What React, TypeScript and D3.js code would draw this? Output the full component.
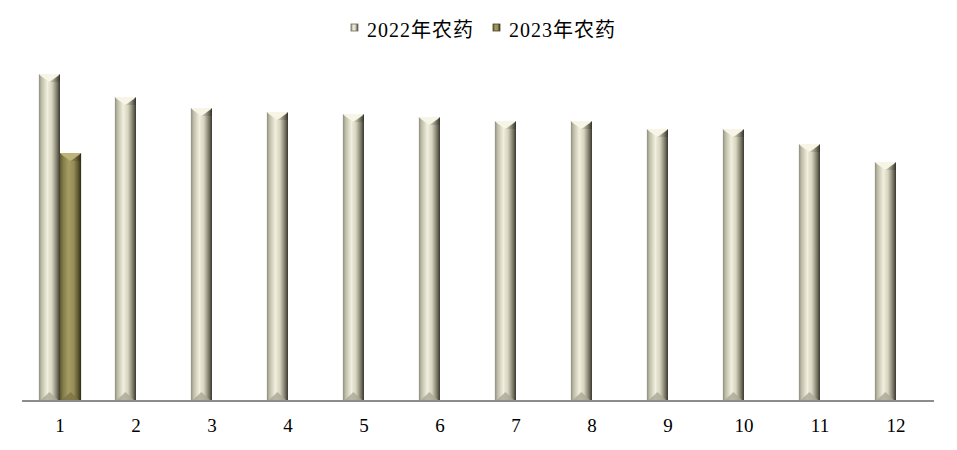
import * as d3 from 'd3';
import { useEffect, useRef } from 'react';

// months and values (arbitrary units)
const months = ['1', '2', '3', '4', '5', '6', '7', '8', '9', '10', '11', '12'];
const series = ['2022年农药', '2023年农药'];
const values2022 = [326, 303, 292, 288, 286, 283, 279, 279, 271, 271, 256, 238];
const values2023 = [247];

const W = 957;
const H = 450;

export default function App() {
  const ref = useRef<SVGSVGElement>(null);

  useEffect(() => {
    const svg = d3.select(ref.current);
    svg.selectAll('*').remove();

    const margin = { top: 50, right: 23, bottom: 50, left: 22 };
    const baseY = H - margin.bottom;

    const x = d3.scaleBand().domain(months).range([margin.left, W - margin.right]).paddingInner(0).paddingOuter(0);
    const x1 = d3.scaleBand().domain(series).range([0, x.bandwidth()]).paddingInner(0).paddingOuter(0.8);
    const y = d3.scaleLinear().domain([0, 350]).range([baseY, margin.top]);

    const defs = svg.append('defs');
    const grads = [
      {
        id: 'g22',
        stops: [
          [0, '#8e8c7c'],
          [0.12, '#bdbba8'],
          [0.4, '#f1efdd'],
          [0.62, '#d6d4bf'],
          [0.82, '#8a8876'],
          [1, '#3a392e'],
        ],
        top: '#f7f5e6',
        bot: '#a9a796',
      },
      {
        id: 'g23',
        stops: [
          [0, '#5e5830'],
          [0.15, '#847c4a'],
          [0.4, '#a69d65'],
          [0.65, '#958c57'],
          [0.85, '#625b32'],
          [1, '#2e2b18'],
        ],
        top: '#bdb47c',
        bot: '#7b7344',
      },
    ];
    grads.forEach((g) => {
      const lg = defs.append('linearGradient').attr('id', g.id).attr('x1', 0).attr('x2', 1).attr('y1', 0).attr('y2', 0);
      g.stops.forEach(([o, c]) => lg.append('stop').attr('offset', o as number).attr('stop-color', c as string));
    });

    const data: { m: string; s: number; v: number }[] = [];
    months.forEach((m, i) => {
      data.push({ m, s: 0, v: values2022[i] });
      if (values2023[i] != null) data.push({ m, s: 1, v: values2023[i] });
    });

    const bars = svg
      .append('g')
      .selectAll('g')
      .data(data)
      .join('g')
      .attr('transform', (d) => `translate(${x(d.m)! + x1(series[d.s])!},0)`);

    const bw = x1.bandwidth();
    const bev = bw / 2;

    bars
      .append('rect')
      .attr('x', 0)
      .attr('width', bw)
      .attr('y', (d) => y(d.v))
      .attr('height', (d) => baseY - y(d.v))
      .attr('fill', (d) => `url(#${grads[d.s].id})`);

    // top bevel
    bars
      .append('path')
      .attr('d', (d) => {
        const t = y(d.v);
        return `M0,${t}L${bw},${t}L${bw - 2},${t + 2}L${bw / 2},${t + bev * 0.75}L2,${t + 2}Z`;
      })
      .attr('fill', (d) => grads[d.s].top);
    bars
      .append('path')
      .attr('d', (d) => {
        const t = y(d.v);
        return `M${bw},${t}L${bw / 2},${t + bev * 0.75}L${bw},${t + bev * 0.75}Z`;
      })
      .attr('fill', '#000')
      .attr('opacity', 0.12);

    // bottom bevel
    bars
      .append('path')
      .attr('d', () => `M2,${baseY}L${bw - 2},${baseY}L${bw / 2},${baseY - bev * 0.75}Z`)
      .attr('fill', (d) => grads[d.s].bot)
      .attr('opacity', 0.8);

    // axis line
    svg
      .append('line')
      .attr('x1', margin.left)
      .attr('x2', W - margin.right)
      .attr('y1', baseY + 1)
      .attr('y2', baseY + 1)
      .attr('stroke', '#8c8c8c')
      .attr('stroke-width', 2);

    svg
      .append('g')
      .selectAll('text')
      .data(months)
      .join('text')
      .attr('x', (d) => x(d)! + x.bandwidth() / 2)
      .attr('y', 432)
      .attr('text-anchor', 'middle')
      .attr('font-size', 19)
      .attr('font-family', '"Liberation Serif", "Times New Roman", serif')
      .text((d) => d);

    // legend
    const legX = [351, 493];
    const leg = svg
      .append('g')
      .selectAll('g')
      .data(series)
      .join('g')
      .attr('transform', (_, i) => `translate(${legX[i]},0)`);
    leg
      .append('rect')
      .attr('x', 0)
      .attr('y', 24)
      .attr('width', 7)
      .attr('height', 7)
      .attr('fill', (_, i) => `url(#${grads[i].id})`)
      .attr('stroke', (_, i) => (i ? '#4a4528' : '#6e6c5c'))
      .attr('stroke-width', 0.8);
    leg
      .append('text')
      .attr('x', 16)
      .attr('y', 37)
      .attr('font-size', 20)
      .attr('font-family', '"Liberation Serif", "Noto Sans CJK SC", serif')
      .attr('textLength', 106)
      .text((d) => d);
  }, []);

  return (
    <svg ref={ref} width={W} height={H} style={{ display: 'block', position: 'absolute', left: 0, top: 0, background: '#fff' }} />
  );
}
